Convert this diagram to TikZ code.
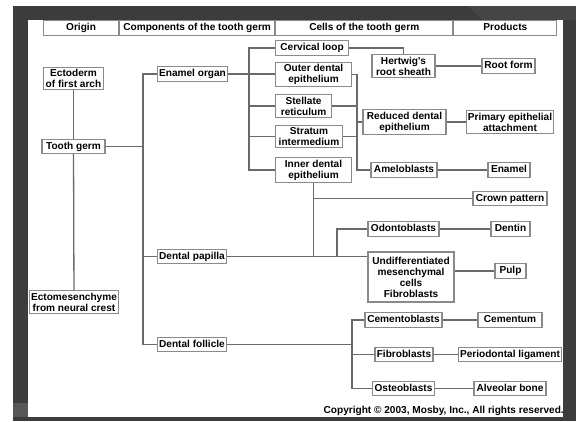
\documentclass[tikz,border=0pt]{standalone}
\usepackage{fontspec}
\newfontfamily\germfont{Liberation Sans}
\usetikzlibrary{positioning}
\definecolor{framegray}{HTML}{3C3C3C}
\definecolor{framelight}{HTML}{454545}
\definecolor{stripgray}{HTML}{575757}
\definecolor{boxgray}{HTML}{8A8A8A}
\definecolor{linegray}{HTML}{6A6A6A}
\tikzset{
  germbox/.style={draw=boxgray, fill=white, line width=1.1bp, align=center,
                  inner xsep=1.8bp, inner ysep=2.2bp,
                  font=\germfont\bfseries\fontsize{10.1bp}{11bp}\selectfont},
  onebox/.style={germbox, text height=7.6bp, text depth=2.2bp},
  headcell/.style={draw=boxgray, line width=1.1bp, inner sep=0pt, minimum height=15bp,
                   anchor=north west, text height=7.6bp, text depth=2.2bp,
                   font=\germfont\bfseries\fontsize{10.1bp}{11bp}\selectfont},
  link/.style={draw=linegray, line width=1.3bp},
}

\begin{document}
\begin{tikzpicture}[x=1bp, y=-1bp]
  \useasboundingbox (0,0) rectangle (576,421);
  % Slide frame
  \fill[framegray] (13,6) rectangle (576,421);
  \fill[framelight] (468,6) -- (576,6) -- (576,20) -- (482,20) -- cycle;
  \fill[stripgray] (13,403) rectangle (28,417);
  \fill[white] (28,20) rectangle (563,417);

  % Header row
  \node[headcell, minimum width=75bp]  (hOrigin) at (43,20) {Origin};
  \node[headcell, minimum width=155bp] (hComp) at (hOrigin.north east) {Components of the tooth germ};
  \node[headcell, minimum width=177bp] (hCells) at (hComp.north east) {Cells of the tooth germ};
  \node[headcell, minimum width=103bp] (hProd) at (hCells.north east) {Products};

  % Origin
  \node[germbox] (ecto) at (73.5,78.5) {Ectoderm\\of first arch};
  \node[onebox, minimum width=63bp] (germ) at (73.5,146.5) {Tooth germ};
  \node[germbox] (ectomes) at (74,302) {Ectomesenchyme\\from neural crest};

  % Components of the tooth germ
  \node[onebox] (enamel) at (192.5,74) {Enamel organ};
  \node[onebox] (papilla) at (192,256.5) {Dental papilla};
  \node[onebox] (follicle) at (192,344.5) {Dental follicle};

  % Cells of the tooth germ
  \node[onebox, anchor=west, minimum width=73bp] (cervical) at (275,48) {Cervical loop};
  \node[germbox, anchor=west, minimum width=76bp] (outer) at (275,74.5) {Outer dental\\epithelium};
  \node[germbox, anchor=west, minimum width=56bp] (stellate) at (275,106) {Stellate\\reticulum};
  \node[germbox, anchor=west, minimum width=67bp] (stratum) at (275,136.5) {Stratum\\intermedium};
  \node[germbox, anchor=west, minimum width=76bp] (inner) at (275,170) {Inner dental\\epithelium};

  \node[germbox, minimum width=63bp] (hertwig) at (403.5,66) {Hertwig's\\root sheath};
  \node[germbox, minimum width=83bp] (reduced) at (404.5,122) {Reduced dental\\epithelium};
  \node[onebox, minimum width=66bp] (amelo) at (404,170) {Ameloblasts};
  \node[onebox, minimum width=71bp] (odonto) at (403.5,229) {Odontoblasts};
  \node[germbox, minimum width=86bp, minimum height=50bp] (undiff) at (411,277)
    {Undifferentiated\\mesenchymal\\cells\\Fibroblasts};
  \node[onebox, minimum width=77bp] (cemento) at (403.5,320) {Cementoblasts};
  \node[onebox] (fibro) at (404,354.5) {Fibroblasts};
  \node[onebox, minimum width=61bp] (osteo) at (403.5,388.5) {Osteoblasts};

  % Products
  \node[onebox, minimum width=53bp] (root) at (508.5,66) {Root form};
  \node[germbox, minimum width=86bp] (primary) at (510,122) {Primary epithelial\\attachment};
  \node[onebox, minimum width=42bp] (enamelp) at (509,170) {Enamel};
  \node[onebox, minimum width=74bp] (crown) at (510,198.5) {Crown pattern};
  \node[onebox, minimum width=39bp] (dentin) at (510.5,229) {Dentin};
  \node[onebox, minimum width=31bp] (pulp) at (510.5,271) {Pulp};
  \node[onebox, minimum width=64bp] (cementum) at (510,320) {Cementum};
  \node[onebox] (pdl) at (510,354.5) {Periodontal ligament};
  \node[onebox, minimum width=72bp] (alveolar) at (510,388.5) {Alveolar bone};

  % Copyright line
  \node[anchor=east, inner sep=0pt,
        font=\germfont\bfseries\fontsize{10.1bp}{11bp}\selectfont]
    (copy) at (564,411) {Copyright \textcopyright{} 2003, Mosby, Inc., All rights reserved.};

  % Spines
  \coordinate (compspine) at (143,0);
  \coordinate (cellspine) at (249,0);
  \coordinate (redspine) at (357,0);
  \coordinate (odospine) at (337,0);
  \coordinate (folspine) at (352,0);

  % Origin links
  \draw[link] (ecto) -- (germ);
  \draw[link] (germ) -- (ectomes);
  \draw[link] (germ.east) -- (germ.east -| compspine);

  % Components links
  \draw[link] (enamel.west) -| (compspine |- follicle.west) -- (follicle.west);
  \draw[link] (papilla.west) -- (papilla.west -| compspine);

  % Enamel organ branch
  \draw[link] (enamel.east) -- (enamel.east -| outer.west);
  \draw[link] (cervical.west) -| (cellspine |- inner.west) -- (inner.west);
  \draw[link] (stellate.west) -- (stellate.west -| cellspine);
  \draw[link] (stratum.west) -- (stratum.west -| cellspine);
  \draw[link] (outer.east) -| (redspine |- amelo.west) -- (amelo.west);
  \draw[link] (stellate.east) -- (stellate.east -| redspine);
  \draw[link] (stratum.east) -- (stratum.east -| redspine);
  \draw[link] (reduced.west -| redspine) -- (reduced.west);
  \draw[link] (cervical.east) -| (hertwig.north);
  \draw[link] (hertwig) -- (root);
  \draw[link] (reduced) -- (primary);
  \draw[link] (amelo) -- (enamelp);
  \draw[link] (inner.south) -- (inner.south |- papilla.east);
  \draw[link] (inner.south |- crown.west) -- (crown.west);

  % Dental papilla branch
  \draw[link] (papilla.east) -- (papilla.east -| undiff.west);
  \draw[link] (papilla.east -| odospine) |- (odonto.west);
  \draw[link] (odonto) -- (dentin);
  \draw[link] (pulp.west -| undiff.east) -- (pulp.west);

  % Dental follicle branch
  \draw[link] (follicle.east) -- (follicle.east -| folspine);
  \draw[link] (cemento.west) -| (folspine |- osteo.west) -- (osteo.west);
  \draw[link] (fibro.west -| folspine) -- (fibro.west);
  \draw[link] (cemento) -- (cementum);
  \draw[link] (fibro) -- (pdl);
  \draw[link] (osteo) -- (alveolar);
\end{tikzpicture}
\end{document}
